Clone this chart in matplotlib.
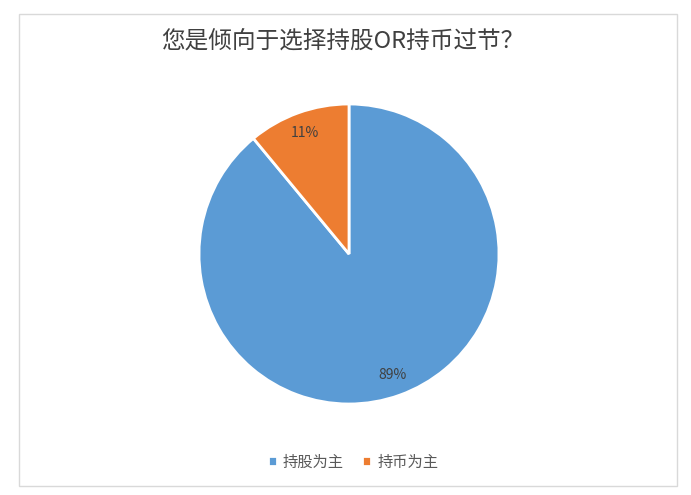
import matplotlib.pyplot as plt
from matplotlib.patches import Rectangle

plt.rcParams['font.family'] = ['Noto Sans CJK SC', 'DejaVu Sans']

# data
categories = ['持股为主', '持币为主']
shares = [89, 11]
colors = ['#5B9BD5', '#ED7D31']
TITLE = '您是倾向于选择持股OR持币过节？'

W, H = 691, 495
fig = plt.figure(figsize=(W / 100, H / 100), dpi=100)

# chart frame
fig.patches.append(Rectangle((19 / W, 1 - 486 / H), 658 / W, 472 / H,
                             transform=fig.transFigure, fill=False,
                             edgecolor='#D9D9D9', linewidth=1))

# pie area: centre (349,254), radius 150 px
ax = fig.add_axes([199 / W, 1 - 404 / H, 300 / W, 300 / H])
wedges, texts, autotexts = ax.pie(
    shares, colors=colors, startangle=90, counterclock=False,
    autopct='%d%%', pctdistance=0.86, radius=1.0,
    wedgeprops=dict(edgecolor='white', linewidth=2),
    textprops=dict(color='#404040', fontsize=10))
ax.set_xlim(-1, 1)
ax.set_ylim(-1, 1)
ax.set_aspect('equal')
ax.axis('off')

fig.text(343 / W, 1 - 42 / H, TITLE, ha='center', va='center',
         fontsize=17, color='#404040')

fig.legend(wedges, categories, loc='center', bbox_to_anchor=(353 / W, 1 - 462 / H),
           ncol=2, frameon=False, fontsize=11, handlelength=0.6, handleheight=0.6,
           handletextpad=0.4, columnspacing=1.2, labelcolor='#595959')

fig.savefig('out.png', dpi=100, facecolor='white')
